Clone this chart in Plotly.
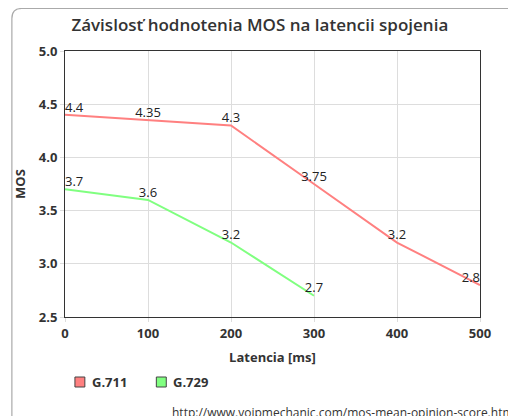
import plotly.graph_objects as go

latency = [0, 100, 200, 300, 400, 500]
g711 = [4.4, 4.35, 4.3, 3.75, 3.2, 2.8]
latency_729 = [0, 100, 200, 300]
g729 = [3.7, 3.6, 3.2, 2.7]
g711_labels = ["4.4", "4.35", "4.3", "3.75", "3.2", "2.8"]
g729_labels = ["3.7", "3.6", "3.2", "2.7"]
series_names = ["G.711", "G.729"]
colors = ["#ff8080", "#80ff80"]

# page body has an 8px margin: work in screen pixels, convert with OFF
OFF = 8
W, H = 516, 416
L, R, T, B = 62 - OFF, 44, 51 - OFF, 107
pw, ph = W - L - R, H - T - B

def px(x):  # screen x -> paper
    return (x - OFF - L) / pw

def py(y):  # screen y -> paper
    return 1 - (y - OFF - T) / ph

fig = go.Figure()

pos711 = ["top right"] + ["top center"] * (len(g711) - 2) + ["top left"]
pos729 = ["top right"] + ["top center"] * (len(g729) - 1)

fig.add_trace(go.Scatter(x=latency, y=g711, mode="lines+text", text=g711_labels,
                         name=series_names[0],
                         textposition=pos711, line=dict(color=colors[0], width=2),
                         textfont=dict(size=13, color="#222"), showlegend=False,
                         cliponaxis=False))
fig.add_trace(go.Scatter(x=latency_729, y=g729, mode="lines+text", text=g729_labels,
                         name=series_names[1],
                         textposition=pos729, line=dict(color=colors[1], width=2),
                         textfont=dict(size=13, color="#222"), showlegend=False,
                         cliponaxis=False))

# legend drawn as squares + labels below the chart
leg_x = [72, 154]
for lx, name, c in zip(leg_x, series_names, colors):
    fig.add_shape(type="rect", xref="paper", yref="paper",
                  x0=px(lx), x1=px(lx + 10), y0=py(387), y1=py(377),
                  fillcolor=c, line=dict(color="#444", width=1))
    fig.add_annotation(text=f"<b>{name}</b>", xref="paper", yref="paper",
                       x=px(lx + 15), y=py(382), xanchor="left", yanchor="middle",
                       showarrow=False, font=dict(size=13, color="#333"))

# container border with rounded corner
r = 10
path = (f"M {px(8.5)},{py(440)} L {px(8.5)},{py(8.5 + r)} "
        f"Q {px(8.5)},{py(8.5)} {px(8.5 + r)},{py(8.5)} L {px(540)},{py(8.5)}")
fig.add_shape(type="path", path=path, xref="paper", yref="paper",
              line=dict(color="#aaaaaa", width=1.2), layer="below")

fig.add_annotation(text="http://www.voipmechanic.com/mos-mean-opinion-score.htm",
                   xref="paper", yref="paper", x=px(168), y=py(412),
                   xanchor="left", yanchor="middle", showarrow=False,
                   font=dict(size=12, color="#333"))

fig.update_layout(
    width=W, height=H,
    margin=dict(l=L, r=R, t=T, b=B),
    paper_bgcolor="white", plot_bgcolor="white",
    showlegend=False,
    font=dict(family="Open Sans, Noto Sans, sans-serif", color="#333"),
    title=dict(text="Závislosť hodnotenia MOS na latencii spojenia",
               x=px(266), xanchor="center", y=1 - (25 - OFF) / H, yanchor="middle",
               font=dict(size=17, color="#333", weight=600)),
    xaxis=dict(range=[0, 500], tickvals=latency, showgrid=True, gridcolor="#dddddd",
               showline=True, linecolor="#333", mirror=True, zeroline=False,
               ticks="outside", ticklen=4, tickcolor="#dddddd",
               tickfont=dict(size=13, color="#333", weight="bold"),
               title=dict(text="Latencia [ms]", standoff=12,
                          font=dict(size=13, color="#333", weight="bold"))),
    yaxis=dict(range=[2.5, 5.0], dtick=0.5, tickformat=".1f", showgrid=True,
               gridcolor="#dddddd", showline=True, linecolor="#333", mirror=True,
               zeroline=False, ticks="outside", ticklen=4, tickcolor="#dddddd",
               tickfont=dict(size=13, color="#333", weight="bold"),
               title=dict(text="MOS", standoff=10,
                          font=dict(size=13, color="#333", weight="bold"))),
)

fig.write_html("out.html")
